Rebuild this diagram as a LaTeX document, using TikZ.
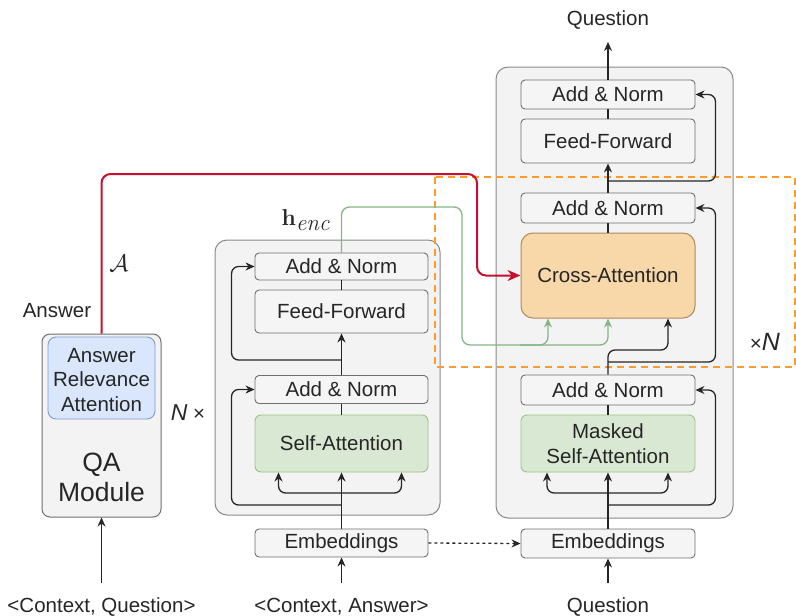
\RequirePackage{fix-cm}
\documentclass[tikz,border=0pt]{standalone}
\usepackage[no-math]{fontspec}
\setmainfont{Liberation Sans}
\newfontfamily\lmserif{Latin Modern Roman}
\usetikzlibrary{arrows.meta,calc}
\definecolor{boxfill}{HTML}{F5F5F5}
\definecolor{boxdraw}{HTML}{6F6F6F}
\definecolor{contfill}{HTML}{F3F3F3}
\definecolor{contdraw}{HTML}{8A8A8A}
\definecolor{gfill}{HTML}{D9E8D3}
\definecolor{gdraw}{HTML}{9CC38C}
\definecolor{bfill}{HTML}{DAE6FB}
\definecolor{bdraw}{HTML}{7E9CCB}
\definecolor{ofill}{HTML}{F8D7A9}
\definecolor{odraw}{HTML}{B08A5C}
\definecolor{redline}{HTML}{C8102E}
\definecolor{greenline}{HTML}{86B585}
\definecolor{dashorange}{HTML}{FF9A2E}
\definecolor{ink}{HTML}{262626}
\begin{document}
\begin{tikzpicture}[x=1pt,y=-1pt,
  every node/.style={font=\fontsize{20.5}{24}\selectfont, text=ink},
  cont/.style={draw=contdraw, fill=contfill, rounded corners=12pt, line width=1pt},
  blk/.style={draw=boxdraw, fill=boxfill, rounded corners=4pt, line width=0.9pt, minimum width=173pt, inner sep=0pt},
  gblk/.style={blk, draw=gdraw, fill=gfill, rounded corners=6pt},
  line/.style={draw=ink, line width=1.3pt},
  arr/.style={line, -{Stealth[length=9pt,width=8pt]}},
  garr/.style={draw=greenline, line width=1.3pt, -{Stealth[length=9pt,width=8pt]}},
  rarr/.style={draw=redline, line width=2pt, -{Stealth[length=13pt,width=11pt]}},
  lbl/.style={inner sep=0pt}
]
\useasboundingbox (0,0) rectangle (796,616);

% containers
\node[cont, minimum width=225pt, minimum height=275pt] (enc) at (327.5,377.5) {};
\node[cont, minimum width=237pt, minimum height=451pt] (dec) at (614.5,292.5) {};
\node[cont, rounded corners=8pt, draw=boxdraw, minimum width=119pt, minimum height=183pt] (qa) at (101.5,425.5) {};

% QA module
\node[draw=bdraw, fill=bfill, rounded corners=8pt, line width=0.9pt, minimum width=107pt, minimum height=82pt] (ara) at (101.5,378) {};
\node[lbl, align=center, font=\fontsize{20.5}{24.5}\selectfont] (aratxt) at (101.5,380) {Answer\\Relevance\\Attention};
\node[lbl, align=center, font=\fontsize{26.5}{30}\selectfont] (qatxt) at (101.5,477) {QA\\Module};

% encoder blocks
\node[blk, minimum height=27pt] (eAN1) at (341.5,266.5) {Add \& Norm};
\node[blk, minimum height=43pt] (eFF) at (341.5,311.5) {Feed-Forward};
\node[blk, minimum height=28pt] (eAN2) at (341.5,389.5) {Add \& Norm};
\node[gblk, minimum height=57pt] (eSA) at (341.5,443.5) {Self-Attention};
\node[blk, minimum height=28pt] (eEmb) at (341.5,543) {Embeddings};

% decoder blocks
\node[blk, minimum width=174pt, minimum height=29pt] (dAN1) at (608,94.5) {Add \& Norm};
\node[blk, minimum width=174pt, minimum height=44pt] (dFF) at (608,141) {Feed-Forward};
\node[blk, minimum width=174pt, minimum height=30pt] (dAN2) at (608,208) {Add \& Norm};
\node[draw=odraw, fill=ofill, rounded corners=12pt, line width=1pt, minimum width=174pt, minimum height=85pt, inner sep=0pt] (dCA) at (608,275.5) {Cross-Attention};
\node[blk, minimum width=174pt, minimum height=30pt] (dAN3) at (608,390) {Add \& Norm};
\node[gblk, minimum width=174pt, minimum height=57pt, align=center, font=\fontsize{20.5}{25}\selectfont] (dMSA) at (608,443.5) {Masked\\Self-Attention};
\node[blk, minimum width=174pt, minimum height=29pt] (dEmb) at (608,543.5) {Embeddings};

% labels
\node[lbl] (qtop) at (608,20) {Question};
\node[lbl] (qbot) at (608,607) {Question};
\node[lbl] (incq) at (101.5,607) {<Context, Question>};
\node[lbl] (inca) at (341.5,607) {<Context, Answer>};
\node[lbl] (ans) at (57,311) {Answer};
\node[lbl, font=\fontsize{24}{26}\selectfont] (calA) at (119,263) {$\mathcal{A}$};
\node[lbl, font=\fontsize{23}{26}\lmserif] (henc) at (305.5,220) {\textbf{h}\raisebox{-5pt}{\itshape enc}};
\node[lbl] (nx) at (188,413) {{\fontsize{23}{24}\selectfont\textit{N}} ×};
\node[lbl] (xn) at (765,342) {×{\fontsize{25}{26}\selectfont\textit{N}}};

% coordinates for free ends and branch points
\coordinate (qtip) at (608,42);
\coordinate (inq) at (101.5,583);
\coordinate (ina) at (341.5,583);
\coordinate (inqd) at (608,583);
\coordinate (eB1) at (341.5,505);
\coordinate (eB2) at (341.5,493);
\coordinate (eB3) at (341.5,360);
\coordinate (dB1) at (608,505);
\coordinate (dB2) at (608,493);
\coordinate (dB3) at (608,362);
\coordinate (dB4) at (608,181);
\coordinate (gB) at (520,345);

% orange dashed region
\draw[dashorange, line width=1.5pt, dash pattern=on 7pt off 5pt] (435,177) rectangle (795,367);

% encoder connectors
\draw[arr] (eEmb.north) -- (eSA.south);
\draw[arr, rounded corners=7pt] (eB1) -| ([xshift=-23pt]eAN2.west) -- (eAN2.west);
\draw[arr, rounded corners=7pt] (eB2) -| ([xshift=-63pt]eSA.south);
\draw[arr, rounded corners=7pt] (eB2) -| ([xshift=60pt]eSA.south);
\draw[line] (eSA.north) -- (eAN2.south);
\draw[arr] (eAN2.north) -- (eFF.south);
\draw[arr, rounded corners=7pt] (eB3) -| ([xshift=-23pt]eAN1.west) -- (eAN1.west);
\draw[line] (eFF.north) -- (eAN1.south);

% decoder connectors
\draw[arr] (dEmb.north) -- (dMSA.south);
\draw[arr, rounded corners=7pt] (dB1) -| ([xshift=20pt]dAN3.east) -- (dAN3.east);
\draw[arr, rounded corners=7pt] (dB2) -| ([xshift=-61pt]dMSA.south);
\draw[arr, rounded corners=7pt] (dB2) -| ([xshift=60pt]dMSA.south);
\draw[line] (dMSA.north) -- (dAN3.south);
\draw[arr, rounded corners=7pt] (dAN3.north) -- (608,350) -| ([xshift=60pt]dCA.south);
\draw[arr, rounded corners=7pt] (dB3) -| ([xshift=20pt]dAN2.east) -- (dAN2.east);
\draw[line] (dCA.north) -- (dAN2.south);
\draw[arr] (dAN2.north) -- (dFF.south);
\draw[arr, rounded corners=7pt] (dB4) -| ([xshift=20pt]dAN1.east) -- (dAN1.east);
\draw[line] (dFF.north) -- (dAN1.south);
\draw[arr] (dAN1.north) -- (qtip);

% inputs
\draw[arr] (inq) -- (qa.south);
\draw[arr] (ina) -- (eEmb.south);
\draw[arr] (inqd) -- (dEmb.south);
\draw[line, dash pattern=on 3pt off 3pt, -{Stealth[length=9pt,width=8pt]}] (eEmb.east) -- (dEmb.west);

% encoder output to cross-attention
\draw[garr, rounded corners=8pt] (eAN1.north) |- (462,207) -- (462,345) -| (dCA.south);
\draw[garr, rounded corners=8pt] (gB) -| ([xshift=-60pt]dCA.south);

% answer attention to cross-attention
\draw[rarr, rounded corners=9pt] (qa.north) |- (477,174) |- (dCA.west);
\end{tikzpicture}
\end{document}
